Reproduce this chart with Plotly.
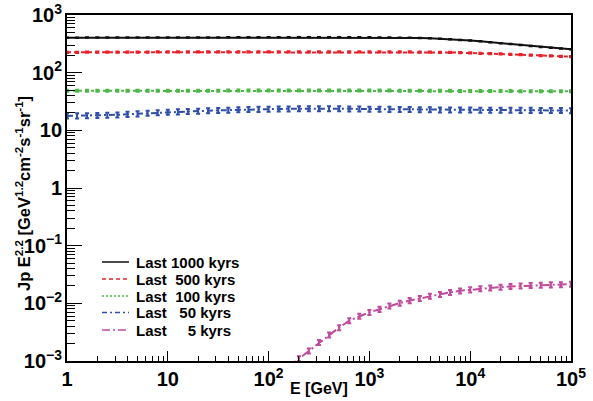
import plotly.graph_objects as go

E = [1, 1.26, 1.58, 2.0, 2.51, 3.16, 3.98, 5.01, 6.31, 7.94,
     10, 12.6, 15.8, 20.0, 25.1, 31.6, 39.8, 50.1, 63.1, 79.4,
     100, 126, 158, 200, 251, 316, 398, 501, 631, 794,
     1000, 1260, 1580, 2000, 2510, 3160, 3980, 5010, 6310, 7940,
     10000, 12600, 15800, 20000, 25100, 31600, 39800, 50100, 63100, 79400, 100000]

last1000 = [405, 405, 406, 406, 406, 407, 407, 407, 408, 408,
            408, 408, 409, 409, 409, 409, 410, 410, 410, 410,
            410, 410, 410, 410, 410, 410, 410, 410, 410, 410,
            410, 409, 407, 405, 403, 400, 394, 387, 379, 370,
            360, 349, 337, 325, 313, 302, 291, 280, 270, 262, 254]

last500 = [226, 226, 227, 227, 227, 228, 228, 228, 228, 229,
           229, 229, 229, 229, 229, 229, 229, 229, 230, 230,
           230, 230, 230, 230, 230, 230, 230, 230, 230, 230,
           230, 230, 230, 229, 229, 228, 227, 226, 224, 222,
           220, 217, 214, 211, 208, 205, 202, 198, 195, 192, 189]

last100 = [48.5, 48.5, 48.5, 48.5, 48.5, 48.5, 48.6, 48.6, 48.6, 48.6,
           48.7, 48.7, 48.7, 48.8, 48.8, 48.8, 48.9, 48.9, 48.9, 49.0,
           49.0, 49.0, 49.0, 49.0, 49.0, 49.0, 49.0, 49.0, 49.0, 49.0,
           49.0, 48.9, 48.9, 48.8, 48.8, 48.7, 48.6, 48.5, 48.4, 48.3,
           48.2, 48.1, 48.0, 47.9, 47.9, 47.8, 47.8, 47.7, 47.7, 47.6, 47.6]

last50 = [17.8, 17.9, 18.0, 18.1, 18.3, 18.6, 19.0, 19.4, 19.8, 20.3,
          20.7, 21.0, 21.3, 21.6, 21.9, 22.2, 22.5, 22.8, 23.0, 23.2,
          23.4, 23.5, 23.6, 23.7, 23.8, 23.8, 23.8, 23.7, 23.6, 23.5,
          23.4, 23.3, 23.2, 23.1, 23.0, 22.9, 22.8, 22.7, 22.7, 22.6,
          22.6, 22.5, 22.5, 22.4, 22.4, 22.3, 22.3, 22.2, 22.1, 22.1, 22.0]

E5 = [158, 200, 251, 316, 398, 501, 631, 794,
      1000, 1260, 1580, 2000, 2510, 3160, 3980, 5010, 6310, 7940,
      10000, 12600, 15800, 20000, 25100, 31600, 39800, 50100, 63100, 79400, 100000]
last5 = [0.0008, 0.00110, 0.00150, 0.00210, 0.00285, 0.0038, 0.0050, 0.0060,
         0.0070, 0.0079, 0.0090, 0.0101, 0.0112, 0.0122, 0.0133, 0.0143, 0.0155, 0.0165,
         0.0172, 0.0180, 0.0186, 0.0191, 0.0196, 0.0200, 0.0204, 0.0207, 0.0210, 0.0212, 0.0215]

NB = "\u00a0"
names = ["Last" + NB + "1000" + NB + "kyrs",
         "Last" + NB * 2 + "500" + NB + "kyrs",
         "Last" + NB * 2 + "100" + NB + "kyrs",
         "Last" + NB * 3 + "50" + NB + "kyrs",
         "Last" + NB * 5 + "5" + NB + "kyrs"]

x_title = "E [GeV]"
y_title = "Jp E<sup>2.2</sup> [GeV<sup>1.2</sup>cm<sup>-2</sup>s<sup>-1</sup>sr<sup>-1</sup>]"

series = [
    (E, last1000, "#111111", "solid", 2.0, 1.0),
    (E, last500, "#e8202a", "4px,3px", 2.0, 2.5),
    (E, last100, "#4cb848", "dot", 2.0, 4.0),
    (E, last50, "#2f4fa8", "6px,3px,2px,3px", 2.0, 10.0),
    (E5, last5, "#c04a9c", "9px,3px,2px,3px", 2.0, 10.0),
]
legend_dash = ["solid", "4px,3px", "2px,2px", "5px,3px,2px,3px", "8px,3px,2px,3px"]

fig = go.Figure()
for (x, y, col, dash, w, pct), nm in zip(series, names):
    fig.add_trace(go.Scatter(
        x=x, y=y, mode="lines", name=nm, showlegend=False,
        line=dict(color=col, dash=dash, width=w),
        error_y=dict(type="percent", value=pct, color=col, thickness=2, width=2),
    ))

font = dict(family="Liberation Sans, Arial, Helvetica", color="black", weight="bold")

# frame in pixels
L, R, T, B = 67, 571, 15, 361
def px_x(p):
    return (p - L) / (R - L)
def px_y(p):
    return (B - p) / (B - T)

# ROOT-style legend
rows = [262, 279, 296, 312.5, 330]
for (x, y, col, dash, w, pct), nm, ld, ry in zip(series, names, legend_dash, rows):
    fig.add_shape(type="line", xref="paper", yref="paper",
                  x0=px_x(102), x1=px_x(129), y0=px_y(ry), y1=px_y(ry),
                  line=dict(color=col, width=1.5 if col == "#111111" else 1.3, dash=ld))
    fig.add_annotation(xref="paper", yref="paper", x=px_x(134), y=px_y(ry),
                       xanchor="left", yanchor="middle", showarrow=False,
                       text=nm, font=dict(size=15, **font))

# axis titles
fig.add_annotation(xref="paper", yref="paper", x=px_x(319), y=px_y(388),
                   xanchor="center", yanchor="middle", showarrow=False,
                   text=x_title, font=dict(size=16, **font))
fig.add_annotation(xref="paper", yref="paper", x=px_x(23), y=px_y(194),
                   xanchor="center", yanchor="middle", showarrow=False, textangle=-90,
                   text=y_title, font=dict(size=16.5, **font))

fig.update_layout(
    width=593, height=401,
    margin=dict(l=L, r=593 - R, t=T, b=401 - B),
    paper_bgcolor="white", plot_bgcolor="white",
    showlegend=False,
    font=font,
)

fig.update_xaxes(
    type="log", range=[0, 5], tickmode="linear", tick0=0, dtick=1,
    exponentformat="power", showgrid=False, zeroline=False, automargin=False,
    showline=True, linecolor="black", linewidth=1.5, mirror=True,
    ticks="inside", ticklen=10, tickwidth=1, tickcolor="black",
    minor=dict(ticks="inside", ticklen=5, dtick="D1", tickcolor="black", showgrid=False),
    tickfont=dict(size=16, **font),
)
fig.update_yaxes(
    type="log", range=[-3, 3], tickmode="linear", tick0=0, dtick=1,
    exponentformat="power", showgrid=False, zeroline=False, automargin=False,
    showline=True, linecolor="black", linewidth=1.5, mirror=True,
    ticks="inside", ticklen=15, tickwidth=1, tickcolor="black",
    minor=dict(ticks="inside", ticklen=8, dtick="D1", tickcolor="black", showgrid=False),
    tickfont=dict(size=16, **font),
)

fig.write_html("out.html")
